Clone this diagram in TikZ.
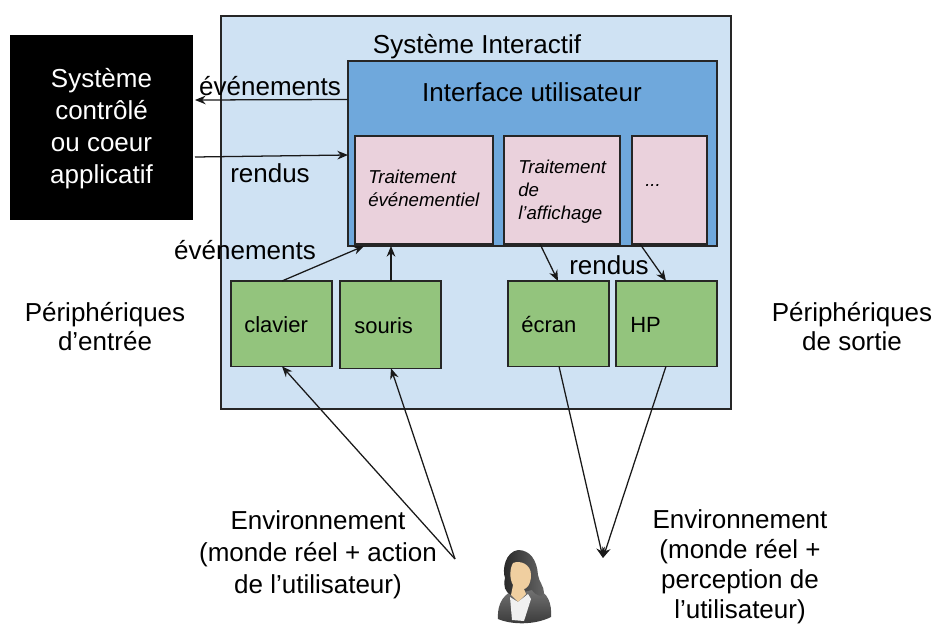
\documentclass[tikz,border=0pt]{standalone}
\usepackage{fontspec}
\setmainfont{Liberation Sans}
\usetikzlibrary{calc,arrows.meta}
\tikzset{
 x=0.75pt,y=-0.75pt,
 box/.style={draw=black!85,line width=0.9pt,anchor=north west,inner sep=0pt,outer sep=0pt},
 sysbox/.style={box,fill=outerblue},
 uibox/.style={box,fill=uiblue},
 pinkbox/.style={box,fill=pinkfill},
 greenbox/.style={box,fill=greenfill},
 lbl/.style={font=\fontsize{19.5}{24}\selectfont,align=center,inner sep=0pt},
 devlbl/.style={font=\fontsize{16.5}{20}\selectfont,anchor=base west,inner sep=0pt},
 itlbl/.style={font=\fontsize{14}{17}\selectfont\itshape,align=left,anchor=north west,inner sep=0pt},
 conn/.style={draw=black!90,line width=0.95pt,-{Stealth[length=8pt,width=6.5pt]}},
}
\definecolor{outerblue}{HTML}{CFE2F3}
\definecolor{uiblue}{HTML}{6FA8DC}
\definecolor{pinkfill}{HTML}{EAD1DC}
\definecolor{greenfill}{HTML}{93C47D}
\definecolor{skin}{HTML}{F0CFA0}
\begin{document}
\begin{tikzpicture}
\useasboundingbox (0,0) rectangle (935,624);
% boxes
\node[sysbox,minimum width=382.5pt,minimum height=294.75pt] (sys) at (221,16) {};
\node[box,fill=black,draw=none,minimum width=137.25pt,minimum height=138.75pt] (core) at (10,35) {};
\node[uibox,minimum width=276.75pt,minimum height=138.75pt] (ui) at (348,61) {};
\node[pinkbox,minimum width=103.5pt,minimum height=81pt] (evt) at (355,136) {};
\node[pinkbox,minimum width=87pt,minimum height=81pt] (aff) at (504,136) {};
\node[pinkbox,minimum width=56.25pt,minimum height=81pt] (etc) at (632,136) {};
\node[greenbox,minimum width=75.75pt,minimum height=64pt] (clavier) at (231,281) {};
\node[greenbox,minimum width=75.75pt,minimum height=65.5pt] (souris) at (340,281) {};
\node[greenbox,minimum width=75.75pt,minimum height=64pt] (ecran) at (508,281) {};
\node[greenbox,minimum width=75.75pt,minimum height=64pt] (hp) at (616,281) {};
% texts
\node[lbl,text=white] (coretxt) at (101.5,129) {Système\\contrôlé\\ou coeur\\applicatif};
\node[lbl] (systxt) at (477,47) {Système Interactif};
\node[lbl] (uitxt) at (532,92) {Interface utilisateur};
\node[lbl] (ev1) at (270,86) {événements};
\node[lbl] (re1) at (270,173) {rendus};
\node[lbl] (ev2) at (245,250) {événements};
\node[lbl] (re2) at (609,265) {rendus};
\node[lbl,font=\fontsize{19.5}{22}\selectfont] (pin) at (105,326.5) {Périphériques\\d’entrée};
\node[lbl,font=\fontsize{19.5}{22}\selectfont] (pout) at (852,326.5) {Périphériques\\de sortie};
\node[lbl] (envin) at (318,555) {Environnement\\(monde réel + action\\de l’utilisateur)};
\node[lbl,font=\fontsize{19.5}{22.5}\selectfont] (envout) at (740,567) {Environnement\\(monde réel +\\perception de\\l’utilisateur)};
\node[itlbl] (t1) at (368,170) {Traitement\\événementiel};
\node[itlbl] (t2) at (518,160) {Traitement\\de\\l’affichage};
\node[itlbl] (t3) at (645,184) {...};
\node[devlbl] (tc) at (244,332) {clavier};
\node[devlbl] (ts) at (354,333) {souris};
\node[devlbl] (te) at (521,332) {écran};
\node[devlbl] (th) at (630,332) {HP};
% junctions
\coordinate (uiL1) at ($(ui.north west)+(0,38.5)$);
\coordinate (coreR1) at ($(core.north east)+(2,65)$);
\coordinate (coreR2) at ($(core.north east)+(2,122)$);
\coordinate (uiL2) at ($(ui.north west)+(0,94)$);
\coordinate (uiB1) at ($(ui.south west)+(16,0)$);
\coordinate (uiB2) at ($(ui.south west)+(43,0)$);
\coordinate (affB) at ($(aff.south west)+(36,0)$);
\coordinate (etcB) at ($(etc.south west)+(8,0)$);
\coordinate (ecT) at ($(ecran.north west)+(50,0)$);
\coordinate (hpT) at ($(hp.north west)+(50,0)$);
\coordinate (clT) at ($(clavier.north west)+(51,0)$);
\coordinate (soT) at ($(souris.north west)+(51,0)$);
\coordinate (act) at (455,559);
\coordinate (see) at (603,558);
\coordinate (clB) at ($(clavier.south west)+(51,0)$);
\coordinate (soB) at ($(souris.south west)+(51,0)$);
\coordinate (ecB) at ($(ecran.south west)+(51,0)$);
\coordinate (hpB) at ($(hp.south west)+(50,0)$);
% connectors
\draw[conn] (uiL1) -- (coreR1);
\draw[conn] (coreR2) -- (uiL2);
\draw[conn] (clT) -- (uiB1);
\draw[conn] (soT) -- (uiB2);
\draw[conn] (affB) -- (ecT);
\draw[conn] (etcB) -- (hpT);
\draw[conn] (act) -- (clB);
\draw[conn] (act) -- (soB);
\draw[conn] (ecB) -- (see);
\draw[conn] (hpB) -- (see);
% person
\shade[top color=black!55,bottom color=black!78] (498,619) .. controls (497,602) and (505,592) .. (518,589) -- (536,589) .. controls (548,592) and (552,604) .. (551,617) .. controls (535,625) and (512,625) .. (498,619) -- cycle;
\shade[left color=black!85,right color=black!60] (518,550) .. controls (505,552) and (502,570) .. (505,578) .. controls (503,586) and (505,592) .. (511,595) -- (532,590) .. controls (536,596) and (543,598) .. (544,593) .. controls (544,586) and (539,582) .. (538,575) .. controls (537,560) and (530,550) .. (518,550) -- cycle;
\fill[skin] (513,563) .. controls (520,560) and (531,564) .. (531,575) .. controls (531,585) and (526,589) .. (524,589) -- (526,594) -- (518,602) -- (511,595) -- (513,585) .. controls (509,578) and (510,568) .. (513,563) -- cycle;
\fill[black!6] (510,597) -- (518,602) -- (528,594) -- (531,599) -- (524,621) -- (512,620) -- cycle;
\end{tikzpicture}
\end{document}
